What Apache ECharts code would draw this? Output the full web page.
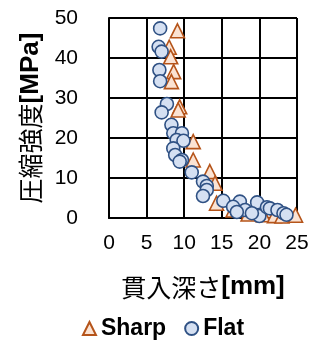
<!DOCTYPE html>
<html><head><meta charset="utf-8">
<script src="https://cdn.jsdelivr.net/npm/echarts@6/dist/echarts.min.js"></script>
<style>html,body{margin:0;padding:0;background:#fff}#c{width:326px;height:340px}</style>
</head><body><div id="c"></div>
<script>
var seriesNames = ['Sharp', 'Flat'];
var sharpData = [
  [9.1,46.8],[8.0,42.7],[8.2,40.3],[8.6,36.6],[8.3,34.1],[9.4,27.8],[9.2,27.0],
  [11.2,19.1],[11.2,14.5],[13.4,11.6],[14.1,8.7],[14.3,3.7],[16.5,2.0],[18.5,1.0],
  [20.5,0.8],[22.0,0.6],[23.0,0.5],[24.8,0.7]
];
var flatData = [
  [6.8,47.4],[6.6,42.8],[7.0,41.6],[6.7,37.0],[6.8,34.2],[7.7,28.5],[7.0,26.4],
  [8.3,23.3],[8.55,21.2],[9.7,21.2],[9.0,19.5],[9.9,19.3],[8.55,17.4],[8.8,15.75],
  [9.7,14.5],[9.4,14.1],[11.0,11.4],[12.5,9.1],[13.0,8.0],[13.0,7.0],[12.5,5.5],
  [15.2,4.3],[17.4,4.1],[16.5,2.8],[18.1,2.0],[19.7,3.9],[20.0,0.5],[21.0,2.7],
  [21.4,2.4],[22.4,2.0],[23.2,1.2],[23.6,0.8],[17.0,1.5],[19.0,1.2]
];
var xTitle = ['貫入深さ', '[mm]'];
var yTitle = ['圧縮強度', '[MPa]'];

var chart = echarts.init(document.getElementById('c'), null, {renderer: 'canvas'});
var lbl = {fontFamily: 'Liberation Sans, Arial, sans-serif', fontSize: 21, color: '#000'};
var rich = {
  j: {fontFamily: 'Noto Sans CJK JP', fontSize: 25, fontWeight: 'normal', color: '#000'},
  b: {fontFamily: 'Liberation Sans, Arial, sans-serif', fontSize: 26, fontWeight: 'bold', color: '#000'}
};
chart.setOption({
  animation: false,
  grid: {left: 109, right: 29, top: 18, bottom: 122, containLabel: false},
  xAxis: {
    type: 'value', min: 0, max: 25, interval: 5,
    name: '{j|' + xTitle[0] + '}{b|' + xTitle[1] + '}',
    nameLocation: 'middle', nameGap: 56,
    nameTextStyle: {rich: rich},
    axisLine: {show: true, lineStyle: {color: '#000', width: 2}},
    axisTick: {show: false},
    axisLabel: Object.assign({margin: 15}, lbl),
    splitLine: {show: true, lineStyle: {color: '#000', width: 2}}
  },
  yAxis: {
    type: 'value', min: 0, max: 50, interval: 10,
    name: '{j|' + yTitle[0] + '}{b|' + yTitle[1] + '}',
    nameLocation: 'middle', nameGap: 64, nameRotate: 90,
    nameTextStyle: {rich: rich},
    axisLine: {show: true, lineStyle: {color: '#000', width: 2}},
    axisTick: {show: false},
    axisLabel: Object.assign({margin: 31}, lbl),
    splitLine: {show: true, lineStyle: {color: '#000', width: 2}}
  },
  legend: {
    bottom: 0, left: 'center', itemGap: 18, itemWidth: 13, itemHeight: 13, padding: [0, 5, 0, 5],
    textStyle: {fontFamily: 'Liberation Sans, Arial, sans-serif', fontSize: 23, fontWeight: 'bold', color: '#000'},
    data: [seriesNames[0], seriesNames[1]]
  },
  series: [
    {name: seriesNames[0], type: 'scatter', data: sharpData, symbol: 'triangle', symbolSize: 14,
     itemStyle: {color: '#fbe3d3', borderColor: '#b5541a', borderWidth: 1.6, opacity: 1}},
    {name: seriesNames[1], type: 'scatter', data: flatData, symbol: 'circle', symbolSize: 13,
     itemStyle: {color: '#d5e0f2', borderColor: '#2f5184', borderWidth: 1.6, opacity: 1}}
  ]
});
</script></body></html>
